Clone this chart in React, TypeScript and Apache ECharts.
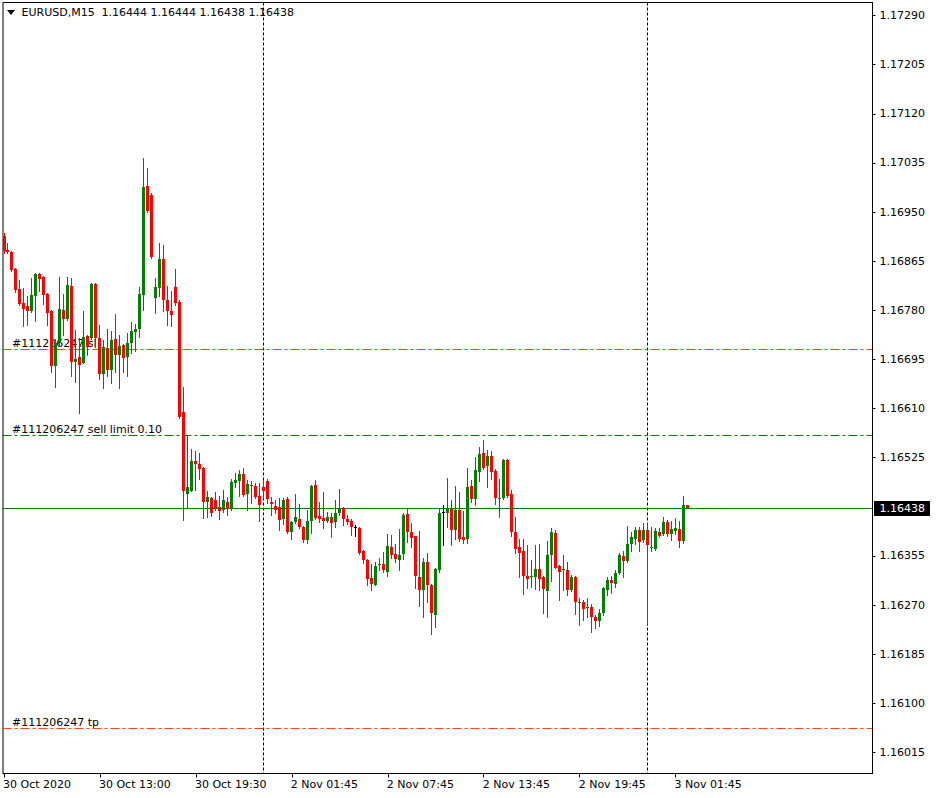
import React, { useEffect, useRef } from "react";
import * as echarts from "echarts";

// ---- data ----
const opens = [
  1.16908, 1.16885, 1.16881, 1.16852, 1.16817, 1.16793, 1.16787, 1.16779, 1.16804, 1.16843,
  1.16838, 1.16809, 1.16779, 1.16683, 1.16723, 1.16781, 1.16765, 1.16822, 1.16691, 1.16700,
  1.16689, 1.16736, 1.16732, 1.16825, 1.16732, 1.16670, 1.16715, 1.16677, 1.16731, 1.16703,
  1.16720, 1.16700, 1.16723, 1.16743, 1.16748, 1.16807, 1.16995, 1.16980, 1.16801, 1.16818,
  1.16869, 1.16798, 1.16779, 1.16821, 1.16795, 1.16604, 1.16463, 1.16468, 1.16520, 1.16514,
  1.16507, 1.16448, 1.16455, 1.16452, 1.16440, 1.16434, 1.16449, 1.16436, 1.16482, 1.16484,
  1.16497, 1.16463, 1.16478, 1.16476, 1.16458, 1.16474, 1.16485, 1.16449, 1.16442, 1.16440,
  1.16419, 1.16454, 1.16397, 1.16413, 1.16419, 1.16406, 1.16382, 1.16415, 1.16478, 1.16425,
  1.16421, 1.16415, 1.16422, 1.16413, 1.16429, 1.16438, 1.16419, 1.16415, 1.16405, 1.16403,
  1.16363, 1.16348, 1.16317, 1.16305, 1.16339, 1.16341, 1.16328, 1.16370, 1.16359, 1.16348,
  1.16359, 1.16428, 1.16397, 1.16389, 1.16318, 1.16296, 1.16344, 1.16305, 1.16253, 1.16330,
  1.16431, 1.16430, 1.16437, 1.16400, 1.16435, 1.16387, 1.16385, 1.16476, 1.16454, 1.16501,
  1.16533, 1.16510, 1.16528, 1.16502, 1.16454, 1.16455, 1.16521, 1.16463, 1.16396, 1.16370,
  1.16364, 1.16320, 1.16318, 1.16318, 1.16333, 1.16318, 1.16294, 1.16356, 1.16395, 1.16338,
  1.16330, 1.16331, 1.16296, 1.16318, 1.16275, 1.16275, 1.16265, 1.16267, 1.16249, 1.16242,
  1.16256, 1.16296, 1.16314, 1.16307, 1.16325, 1.16355, 1.16347, 1.16376, 1.16385, 1.16400,
  1.16382, 1.16400, 1.16369, 1.16367, 1.16396, 1.16393, 1.16413, 1.16393, 1.16399, 1.16402,
  1.16381, 1.16444,
];
const highs = [
  1.16914, 1.16896, 1.16882, 1.16853, 1.16833, 1.16818, 1.16804, 1.16836, 1.16844, 1.16844,
  1.16839, 1.16810, 1.16780, 1.16730, 1.16837, 1.16809, 1.16838, 1.16836, 1.16746, 1.16732,
  1.16779, 1.16737, 1.16828, 1.16827, 1.16755, 1.16729, 1.16748, 1.16745, 1.16773, 1.16738,
  1.16721, 1.16741, 1.16760, 1.16756, 1.16820, 1.17043, 1.17026, 1.16983, 1.16836, 1.16897,
  1.16893, 1.16822, 1.16814, 1.16852, 1.16798, 1.16648, 1.16565, 1.16540, 1.16536, 1.16534,
  1.16509, 1.16468, 1.16457, 1.16465, 1.16458, 1.16470, 1.16457, 1.16488, 1.16499, 1.16504,
  1.16507, 1.16486, 1.16485, 1.16482, 1.16481, 1.16487, 1.16488, 1.16457, 1.16452, 1.16455,
  1.16455, 1.16457, 1.16415, 1.16463, 1.16445, 1.16407, 1.16434, 1.16478, 1.16486, 1.16449,
  1.16465, 1.16431, 1.16430, 1.16452, 1.16471, 1.16440, 1.16426, 1.16419, 1.16409, 1.16405,
  1.16366, 1.16350, 1.16341, 1.16345, 1.16352, 1.16362, 1.16393, 1.16392, 1.16376, 1.16402,
  1.16429, 1.16437, 1.16412, 1.16390, 1.16399, 1.16352, 1.16361, 1.16307, 1.16334, 1.16437,
  1.16444, 1.16490, 1.16452, 1.16476, 1.16465, 1.16432, 1.16508, 1.16487, 1.16527, 1.16544,
  1.16556, 1.16539, 1.16536, 1.16505, 1.16488, 1.16523, 1.16523, 1.16470, 1.16422, 1.16385,
  1.16385, 1.16374, 1.16348, 1.16374, 1.16376, 1.16321, 1.16381, 1.16404, 1.16400, 1.16340,
  1.16357, 1.16344, 1.16322, 1.16321, 1.16282, 1.16279, 1.16282, 1.16272, 1.16253, 1.16263,
  1.16302, 1.16318, 1.16321, 1.16331, 1.16360, 1.16364, 1.16407, 1.16396, 1.16406, 1.16406,
  1.16412, 1.16412, 1.16405, 1.16403, 1.16404, 1.16423, 1.16418, 1.16416, 1.16421, 1.16415,
  1.16458, 1.16444,
];
const lows = [
  1.16880, 1.16879, 1.16848, 1.16811, 1.16789, 1.16752, 1.16755, 1.16777, 1.16761, 1.16813,
  1.16791, 1.16755, 1.16673, 1.16648, 1.16720, 1.16738, 1.16763, 1.16666, 1.16656, 1.16602,
  1.16688, 1.16703, 1.16731, 1.16717, 1.16662, 1.16645, 1.16666, 1.16655, 1.16674, 1.16646,
  1.16674, 1.16666, 1.16706, 1.16710, 1.16734, 1.16781, 1.16950, 1.16871, 1.16775, 1.16804,
  1.16778, 1.16755, 1.16752, 1.16790, 1.16594, 1.16418, 1.16438, 1.16467, 1.16469, 1.16488,
  1.16421, 1.16423, 1.16425, 1.16435, 1.16419, 1.16431, 1.16426, 1.16435, 1.16474, 1.16458,
  1.16459, 1.16434, 1.16446, 1.16455, 1.16415, 1.16455, 1.16447, 1.16426, 1.16430, 1.16400,
  1.16411, 1.16395, 1.16384, 1.16412, 1.16404, 1.16380, 1.16377, 1.16395, 1.16419, 1.16413,
  1.16404, 1.16413, 1.16388, 1.16406, 1.16426, 1.16409, 1.16411, 1.16392, 1.16389, 1.16359,
  1.16343, 1.16305, 1.16296, 1.16304, 1.16330, 1.16328, 1.16321, 1.16351, 1.16344, 1.16331,
  1.16349, 1.16380, 1.16370, 1.16300, 1.16268, 1.16249, 1.16275, 1.16220, 1.16232, 1.16328,
  1.16374, 1.16406, 1.16374, 1.16384, 1.16381, 1.16378, 1.16378, 1.16448, 1.16444, 1.16484,
  1.16505, 1.16475, 1.16488, 1.16445, 1.16423, 1.16454, 1.16457, 1.16389, 1.16360, 1.16318,
  1.16290, 1.16299, 1.16302, 1.16298, 1.16296, 1.16257, 1.16250, 1.16311, 1.16334, 1.16279,
  1.16296, 1.16288, 1.16294, 1.16255, 1.16236, 1.16245, 1.16250, 1.16224, 1.16230, 1.16234,
  1.16253, 1.16287, 1.16291, 1.16302, 1.16324, 1.16318, 1.16345, 1.16364, 1.16376, 1.16364,
  1.16380, 1.16236, 1.16363, 1.16365, 1.16388, 1.16392, 1.16390, 1.16383, 1.16393, 1.16370,
  1.16378, 1.16438,
];
const closes = [
  1.16882, 1.16881, 1.16849, 1.16816, 1.16791, 1.16783, 1.16779, 1.16806, 1.16843, 1.16835,
  1.16807, 1.16775, 1.16684, 1.16723, 1.16782, 1.16765, 1.16824, 1.16691, 1.16696, 1.16686,
  1.16734, 1.16717, 1.16825, 1.16732, 1.16670, 1.16716, 1.16677, 1.16729, 1.16703, 1.16719,
  1.16698, 1.16724, 1.16745, 1.16748, 1.16809, 1.16994, 1.16951, 1.16873, 1.16821, 1.16869,
  1.16797, 1.16778, 1.16772, 1.16793, 1.16596, 1.16468, 1.16474, 1.16520, 1.16514, 1.16506,
  1.16449, 1.16457, 1.16430, 1.16438, 1.16432, 1.16451, 1.16436, 1.16483, 1.16487, 1.16497,
  1.16461, 1.16479, 1.16476, 1.16457, 1.16444, 1.16467, 1.16454, 1.16445, 1.16434, 1.16418,
  1.16452, 1.16397, 1.16414, 1.16422, 1.16406, 1.16382, 1.16415, 1.16476, 1.16421, 1.16419,
  1.16415, 1.16423, 1.16412, 1.16430, 1.16438, 1.16419, 1.16413, 1.16405, 1.16405, 1.16360,
  1.16348, 1.16316, 1.16307, 1.16338, 1.16341, 1.16330, 1.16373, 1.16357, 1.16350, 1.16357,
  1.16426, 1.16397, 1.16386, 1.16320, 1.16296, 1.16344, 1.16304, 1.16257, 1.16332, 1.16429,
  1.16431, 1.16437, 1.16400, 1.16435, 1.16385, 1.16383, 1.16475, 1.16454, 1.16504, 1.16532,
  1.16508, 1.16528, 1.16501, 1.16455, 1.16456, 1.16521, 1.16459, 1.16397, 1.16367, 1.16361,
  1.16320, 1.16316, 1.16320, 1.16333, 1.16316, 1.16298, 1.16357, 1.16396, 1.16335, 1.16328,
  1.16333, 1.16296, 1.16318, 1.16275, 1.16276, 1.16264, 1.16267, 1.16249, 1.16242, 1.16256,
  1.16300, 1.16314, 1.16308, 1.16325, 1.16357, 1.16347, 1.16376, 1.16387, 1.16400, 1.16380,
  1.16400, 1.16374, 1.16371, 1.16399, 1.16390, 1.16413, 1.16393, 1.16402, 1.16403, 1.16381,
  1.16444, 1.16438,
];

const xTickBars = [0, 24, 48, 72, 96, 120, 144, 168];
const xTickLabels = [
  "30 Oct 2020", "30 Oct 13:00", "30 Oct 19:30", "2 Nov 01:45",
  "2 Nov 07:45", "2 Nov 13:45", "2 Nov 19:45", "3 Nov 01:45",
];
const priceTicks = [
  1.16015, 1.161, 1.16185, 1.1627, 1.16355, 1.16525, 1.1661, 1.16695,
  1.1678, 1.16865, 1.1695, 1.17035, 1.1712, 1.17205, 1.1729,
];
const daySeparatorBars = [65, 161];
const bidPrice = 1.16438;
const sellLimitPrice = 1.16564;
const slPrice = 1.16713;
const tpPrice = 1.16057;
const headerSymbol = "EURUSD,M15";
const headerOHLC = "1.16444 1.16444 1.16438 1.16438";
const orderLines = [
  { price: slPrice, text: "#111206247 sl", color: "#ff4500" },
  { price: sellLimitPrice, text: "#111206247 sell limit 0.10", color: "#008000" },
  { price: tpPrice, text: "#111206247 tp", color: "#ff4500" },
];

const GREEN = "#008000";
const RED = "#ff0000";
const FONT = '"DejaVu Sans", Verdana, sans-serif';

const X0 = 2.5;
const X1 = 872.5;
const Y0 = 2.5;
const Y1 = 773.5;

export default function App() {
  const ref = useRef<HTMLDivElement>(null);

  useEffect(() => {
    const el = ref.current;
    if (!el) return;
    const chart = echarts.init(el, null, { renderer: "svg" });

    const candleData = opens.map((o, i) => [i, o, closes[i], lows[i], highs[i]]);

    const option: any = {
      animation: false,
      backgroundColor: "#ffffff",
      grid: {
        left: X0,
        top: Y0,
        width: X1 - X0,
        height: Y1 - Y0,
        show: true,
        borderColor: "#000",
        borderWidth: 1,
        backgroundColor: "#fff",
        containLabel: false,
      },
      xAxis: {
        type: "value",
        min: -0.25,
        max: 217.25,
        splitLine: { show: false },
        axisLine: { show: true, onZero: false, lineStyle: { color: "#000", width: 1 } },
        axisTick: {
          show: true,
          customValues: xTickBars,
          length: 4,
          lineStyle: { color: "#000" },
        },
        axisLabel: {
          customValues: xTickBars,
          formatter: (v: number) => {
            const k = xTickBars.indexOf(Math.round(v));
            return k >= 0 ? xTickLabels[k] : "";
          },
          align: "left",
          margin: 5,
          color: "#000",
          fontFamily: FONT,
          fontSize: 11,
          padding: [0, 0, 0, -1],
        },
      },
      yAxis: {
        type: "value",
        position: "right",
        min: 1.159787,
        max: 1.173125,
        splitLine: { show: false },
        axisLine: { show: true, onZero: false, lineStyle: { color: "#000", width: 1 } },
        axisTick: {
          show: true,
          customValues: priceTicks,
          length: 3,
          lineStyle: { color: "#000" },
        },
        axisLabel: {
          customValues: priceTicks,
          formatter: (v: number) => v.toFixed(5),
          margin: 7,
          color: "#000",
          fontFamily: FONT,
          fontSize: 11,
        },
      },
      series: [
        {
          type: "custom",
          z: 3,
          silent: true,
          encode: { x: 0, y: [1, 2, 3, 4] },
          data: candleData,
          renderItem: (params: any, api: any) => {
            const i = api.value(0);
            const o = api.value(1);
            const c = api.value(2);
            const l = api.value(3);
            const h = api.value(4);
            const po = api.coord([i, o]);
            const pc = api.coord([i, c]);
            const pl = api.coord([i, l]);
            const ph = api.coord([i, h]);
            const col = Math.round(po[0] - 0.5);
            const color = c > o ? GREEN : c < o ? RED : "#000";
            const yTop = Math.round(Math.min(po[1], pc[1]));
            const yBot = Math.round(Math.max(po[1], pc[1]));
            const bodyH = Math.max(1, yBot - yTop);
            const wTop = Math.round(ph[1]);
            const wBot = Math.round(pl[1]) + 1;
            return {
              type: "group",
              children: [
                {
                  type: "line",
                  shape: { x1: col + 0.5, y1: wTop, x2: col + 0.5, y2: wBot },
                  style: { stroke: color, lineWidth: 1 },
                },
                {
                  type: "rect",
                  shape: { x: col - 1, y: yTop, width: 3, height: bodyH },
                  style: { fill: color, stroke: null },
                },
              ],
            };
          },
        },
      ],
    };

    chart.setOption(option);

    const yPix = (p: number) => chart.convertToPixel({ yAxisIndex: 0 }, p) as number;
    const xPix = (b: number) => chart.convertToPixel({ xAxisIndex: 0 }, b) as number;
    const crisp = (v: number) => Math.floor(v) + 0.5;
    const yBid = yPix(bidPrice);

    const textStyle = (text: string, fill = "#000") => ({
      text,
      fill,
      font: `11px ${FONT}`,
      textAlign: "left",
      textVerticalAlign: "middle",
    });

    const graphics: any[] = [
      // day separators
      ...daySeparatorBars.map((b) => ({
        type: "line",
        silent: true,
        z: 0,
        shape: { x1: crisp(xPix(b)), y1: Y0, x2: crisp(xPix(b)), y2: Y1 },
        style: { stroke: "#000", lineWidth: 1, lineDash: [3, 2] },
      })),
      // order lines and their labels
      ...orderLines.map((ol) => ({
        type: "line",
        silent: true,
        z: 0,
        shape: { x1: X0, y1: crisp(yPix(ol.price)), x2: X1, y2: crisp(yPix(ol.price)) },
        style: { stroke: ol.color, lineWidth: 1, lineDash: [9, 3, 3, 3] },
      })),
      ...orderLines.map((ol) => ({
        type: "text",
        silent: true,
        z: 0,
        x: 12,
        y: Math.floor(yPix(ol.price)) - 6,
        style: textStyle(ol.text),
      })),
      // bid line
      {
        type: "line",
        silent: true,
        z: 0,
        shape: { x1: X0, y1: crisp(yBid), x2: X1, y2: crisp(yBid) },
        style: { stroke: GREEN, lineWidth: 1 },
      },
      // header
      {
        type: "polygon",
        silent: true,
        shape: { points: [[7, 10], [15, 10], [11, 15]] },
        style: { fill: "#000" },
      },
      { type: "text", silent: true, x: 21.5, y: 12.5, style: textStyle(headerSymbol) },
      { type: "text", silent: true, x: 101.5, y: 12.5, style: textStyle(headerOHLC) },
      // bid price tag
      {
        type: "rect",
        silent: true,
        z: 10,
        shape: { x: 874, y: Math.floor(yBid) - 7, width: 56, height: 15 },
        style: { fill: "#000" },
      },
      {
        type: "text",
        silent: true,
        z: 11,
        x: 879.5,
        y: Math.floor(yBid) + 0.5,
        style: textStyle(bidPrice.toFixed(5), "#fff"),
      },
    ];

    chart.setOption({ graphic: graphics });

    return () => {
      chart.dispose();
    };
  }, []);

  return (
    <div
      ref={ref}
      style={{
        position: "fixed",
        left: 0,
        top: 0,
        width: 936,
        height: 798,
        background: "#fff",
      }}
    />
  );
}
